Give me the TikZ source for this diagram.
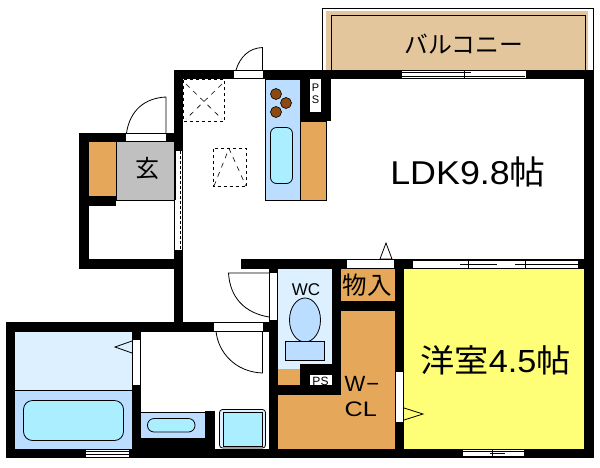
\documentclass[tikz,border=0pt]{standalone}
\usepackage{fontspec}
\setmainfont{Liberation Sans}
\newfontfamily\cjk{Noto Sans CJK JP}
\definecolor{orangeroom}{HTML}{E5A85B}
\definecolor{grayroom}{HTML}{C0C0C0}
\definecolor{bluefix}{HTML}{BBDDFF}
\definecolor{palefix}{HTML}{DDF0FF}
\definecolor{cyanfix}{HTML}{AAEEFF}
\definecolor{tanroom}{HTML}{E3C69C}
\definecolor{yellowroom}{HTML}{FFFF77}
\definecolor{burner}{HTML}{8B4A12}
\tikzset{
  wall/.style={fill=black,draw=none},
  gap/.style={fill=white,draw=none},
  thinline/.style={draw=black,line width=0.8pt},
  dashline/.style={draw=black,line width=0.8pt,dash pattern=on 3pt off 3pt},
  dashdiag/.style={draw=black,line width=0.6pt,dash pattern=on 5pt off 5pt},
  txt/.style={inner sep=0pt,text=black},
}
\begin{document}
\begin{tikzpicture}[x=1pt,y=-1pt]
\useasboundingbox (0,0) rectangle (600,467);
\fill[white] (0,0) rectangle (600,467);
% balcony
\draw[thinline] (322,70) -- (322,8) -- (593,8) -- (593,70);
\fill[tanroom] (326,11) rectangle (588,70);
\draw[thinline] (331,70) -- (331,15.5) -- (585,15.5) -- (585,70);
% room fills
\fill[grayroom] (116,141) rectangle (175,200);
\draw[thinline] (116,200) -- (175,200);
\fill[orangeroom] (89,141) rectangle (116,196);
\draw[thinline] (116,141) -- (116,200);
\filldraw[fill=bluefix,thinline] (265.5,79) rectangle (300.5,200);
\filldraw[fill=orangeroom,thinline] (300.5,121) rectangle (326.5,200);
\fill[yellowroom] (404,269) rectangle (584,449);
\fill[orangeroom] (341,269) rectangle (395,301);
\fill[orangeroom] (341,311) rectangle (395,449);
\fill[orangeroom] (278,395) rectangle (341,449);
\fill[orangeroom] (278,369) rectangle (300,385);
\fill[palefix] (278,269) rectangle (332,369);
\fill[palefix] (15,332) rectangle (132,391);
\fill[bluefix] (15,391) rectangle (132,449);
\draw[thinline] (15,390.5) -- (132,390.5);
\fill[bluefix] (141,412) rectangle (205,438);
\draw[thinline] (141,412) -- (205,412);
% walls
\fill[wall] (174,70) rectangle (594,79);
\fill[wall] (174,70) rectangle (183,151);
\fill[wall] (79,133) rectangle (183,141.5);
\fill[wall] (79,133) rectangle (89,269);
\fill[wall] (89,196) rectangle (116,206);
\fill[wall] (79,259) rectangle (183,269);
\fill[wall] (174,250) rectangle (183,332);
\fill[wall] (584,70) rectangle (594,458);
\fill[wall] (241,259) rectangle (594,269);
\fill[wall] (395,259) rectangle (404,458);
\fill[wall] (332,259) rectangle (341,395);
\fill[wall] (332,301) rectangle (395,311);
\fill[wall] (278,385) rectangle (341,395);
\fill[wall] (300,364) rectangle (332,385);
\fill[wall] (269,259) rectangle (278,458);
\fill[wall] (6,322) rectangle (278,332);
\fill[wall] (6,322) rectangle (15,458);
\fill[wall] (6,449) rectangle (594,458);
\fill[wall] (132,332) rectangle (141,449);
\fill[wall] (205,411) rectangle (215,449);
\fill[wall] (141,438) rectangle (215,449);
\fill[wall] (300,79) rectangle (331,121);
% ps shafts
\fill[gap] (310,79) rectangle (321,112);
\fill[gap] (310,375) rectangle (332,385);
% front door
\fill[gap] (126,134) rectangle (166,141);
\draw[thinline] (126.5,133) .. controls (130,110) and (145,98) .. (166,97) -- (166,133);
% top door
\fill[gap] (234,71) rectangle (262.5,78);
\draw[thinline] (236,70) .. controls (240,57) and (249,48) .. (262.5,47.5) -- (262.5,70);
% sliding panel beside the entrance
\fill[gap] (176,151) rectangle (183,250);
\fill[wall] (174,151) rectangle (176,200);
\draw[thinline] (174.5,200) -- (174.5,250);
\draw[thinline] (182.5,151) -- (182.5,250);
\draw[draw=black,line width=0.6pt,dash pattern=on 3pt off 2pt] (180.3,151) -- (180.3,250);
% windows
\fill[gap] (402,71) rectangle (526,78);
\draw[line width=0.6pt] (402,72) -- (471,72) (464,78) -- (526,78) (402,76) -- (525,76) (464,71) -- (464,78);
\fill[gap] (413,260) rectangle (578,268);
\draw[line width=0.6pt] (413,260) -- (578,260) (413,268) -- (578,268) (460,264) -- (497,264) (515,264) -- (578,264) (468,260) -- (468,268) (525,260) -- (525,268);
\fill[gap] (463,450) rectangle (524,457);
\draw[line width=0.6pt] (463,451) -- (524,451) (463,456) -- (524,456) (490,453.5) -- (505,453.5) (492,450) -- (492,457);
\fill[gap] (86,450) rectangle (129,457);
\draw[line width=0.6pt] (86,451) -- (129,451) (86,454.5) -- (129,454.5);
% storage door
\fill[gap] (347,260) rectangle (394,268);
\draw[thinline] (380,259) -- (386,243) -- (392,259) -- cycle;
% bedroom door
\fill[gap] (396,372) rectangle (403,422);
\draw[thinline] (404,408) -- (423,414) -- (404,420);
% toilet door
\fill[gap] (270,273) rectangle (277,320);
\draw[thinline] (269,317) .. controls (245,313) and (230,298) .. (228.5,273) -- (269,273);
% washroom door
\fill[gap] (214,323) rectangle (263,331);
\draw[thinline] (216,331) .. controls (218,352) and (235,372) .. (262.5,373) -- (262.5,331);
% bath door
\fill[gap] (133,340) rectangle (140,385);
\draw[thinline] (132,341) -- (115,347) -- (132,353);
% dashed overhead boxes
\draw[dashline] (183.5,79.5) rectangle (224.5,121);
\draw[dashdiag] (186,84) -- (222,119) (222,84) -- (186,119);
\draw[dashline] (213.5,148.5) rectangle (246.5,186.5);
\draw[dashdiag] (214,186) -- (229,148.5) -- (246,186);
% kitchen fittings
\foreach \cx/\cy in {276/94,286/103,276/112}
  \filldraw[fill=burner,draw=black,line width=0.6pt] (\cx,\cy) circle (5.5);
\filldraw[fill=cyanfix,thinline,rounded corners=6pt] (270.5,127.5) rectangle (292.5,183.5);
% bath fittings
\filldraw[fill=cyanfix,thinline,rounded corners=9pt] (23.5,400.5) rectangle (123.5,440.5);
\filldraw[fill=cyanfix,thinline,rounded corners=6.5pt] (147.5,418.5) rectangle (195,432);
\filldraw[fill=palefix,thinline,rounded corners=3pt] (219.5,409.5) rectangle (265.5,448);
\filldraw[fill=cyanfix,thinline] (223.5,412.5) rectangle (262.5,446);
% toilet
\filldraw[fill=bluefix,thinline] (305,320) ellipse (15.5 and 22);
\filldraw[fill=bluefix,thinline] (285.5,341.5) rectangle (324.5,360.5);
% labels
\node[txt,font=\fontsize{23.8}{24}\selectfont\cjk] (balcony) at (464,44) {バルコニー};
\node[txt,font=\fontsize{33}{33}\selectfont] (ldk) at (468,172) {\scalebox{1.086}[1]{LDK9.8{\cjk 帖}}};
\node[txt,font=\fontsize{24}{24}\selectfont\cjk] (entry) at (147,168) {玄};
\node[txt,font=\fontsize{24.5}{25}\selectfont\cjk] (storage) at (367,285) {物入};
\node[txt,font=\fontsize{32}{32}\selectfont] (bedroom) at (495.5,360) {\scalebox{1.07}[1]{{\cjk 洋室}4.5{\cjk 帖}}};
\node[txt,anchor=base west,font=\fontsize{22}{22}\selectfont] (wcl1) at (344.5,391) {W\kern1pt−};
\node[txt,anchor=base west,font=\fontsize{21}{21}\selectfont] (wcl2) at (344.5,416) {\scalebox{1.2}[1]{CL}};
\node[txt,font=\fontsize{17}{17}\selectfont] (wc) at (306,290) {WC};
\node[txt,font=\fontsize{11}{11}\selectfont] (ps1) at (315.5,88) {P};
\node[txt,font=\fontsize{11}{11}\selectfont] (ps2) at (315.5,100) {S};
\node[txt,font=\fontsize{12}{12}\selectfont] (ps3) at (320.5,381) {PS};
\end{tikzpicture}
\end{document}
